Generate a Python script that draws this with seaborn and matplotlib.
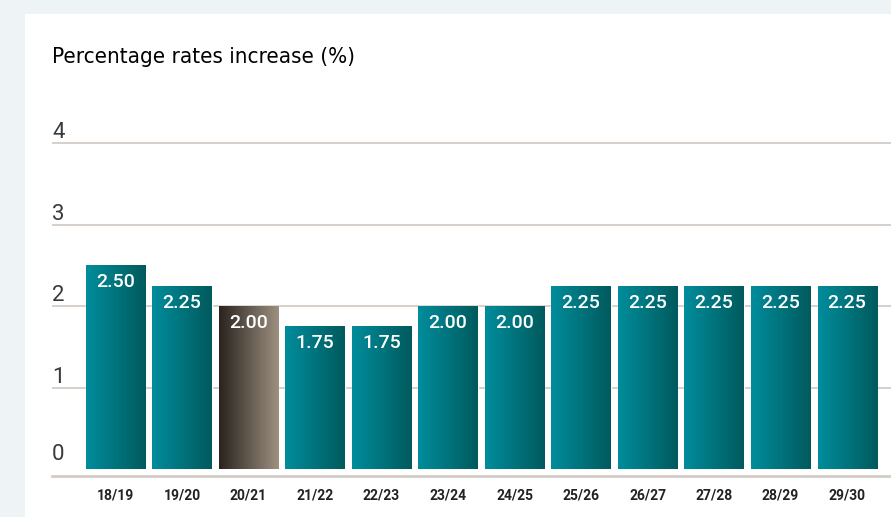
import numpy as np
import pandas as pd
import matplotlib
matplotlib.use("Agg")
import matplotlib.pyplot as plt
import matplotlib.patches as mpatches
from matplotlib.colors import LinearSegmentedColormap
import seaborn as sns

# ---- data ----
categories = ["18/19", "19/20", "20/21", "21/22", "22/23", "23/24", "24/25",
              "25/26", "26/27", "27/28", "28/29", "29/30"]
values = [2.50, 2.25, 2.00, 1.75, 1.75, 2.00, 2.00, 2.25, 2.25, 2.25, 2.25, 2.25]
value_labels = ["2.50", "2.25", "2.00", "1.75", "1.75", "2.00", "2.00",
                "2.25", "2.25", "2.25", "2.25", "2.25"]
y_ticks = [0, 1, 2, 3, 4]
title = "Percentage rates increase (%)"
highlight = "20/21"

sns.set_theme(style="white")
plt.rcParams["font.family"] = ["Roboto", "DejaVu Sans"]

W, H, DPI = 891, 517, 100
fig = plt.figure(figsize=(W / DPI, H / DPI), dpi=DPI)
fig.patch.set_facecolor("#eef3f6")
# white panel
fig.patches.append(mpatches.Rectangle((25 / W, 0), 1 - 25 / W, 1 - 14 / H,
                                      transform=fig.transFigure,
                                      facecolor="white", edgecolor="none", zorder=-5))

left_px, right_px = 52, 891
bottom_px, top_px = 476, 141.4
ax = fig.add_axes([left_px / W, 1 - bottom_px / H, (right_px - left_px) / W,
                   (bottom_px - top_px) / H])
ax.set_facecolor("none")
ax.set_zorder(2)

df = pd.DataFrame({"period": categories, "rate": values})
sns.barplot(data=df, x="period", y="rate", ax=ax, width=0.89,
            color="#007580", saturation=1, zorder=3)

xlim = (-0.955, 11.66)
ylim = (-0.086, 4.02)

teal = LinearSegmentedColormap.from_list("teal", ["#008d9c", "#005a5d"])
grey = LinearSegmentedColormap.from_list("grey", ["#29231f", "#9d9080"])
grad = np.linspace(0, 1, 256).reshape(1, -1)

for cat, patch in zip(categories, ax.patches):
    x0, y0 = patch.get_x(), patch.get_y()
    w, h = patch.get_width(), patch.get_height()
    cmap = grey if cat == highlight else teal
    im = ax.imshow(grad, cmap=cmap, aspect="auto", extent=(x0, x0 + w, y0, y0 + h),
                   zorder=4, interpolation="bilinear")
    im.set_clip_path(patch)

for i, (v, lab) in enumerate(zip(values, value_labels)):
    ax.annotate(lab, xy=(i, v), xytext=(0, -17), textcoords="offset pixels",
                ha="center", va="center", color="white", fontsize=14,
                fontweight="medium", zorder=6)

ax.set_xlim(*xlim)
ax.set_ylim(*ylim)

# gridlines
for t in y_ticks[1:]:
    ax.axhline(t, color="#d3ccc6", lw=1.3, zorder=1)
    ax.text(0, t, str(t), transform=ax.get_yaxis_transform(), ha="left",
            va="bottom", fontsize=16, color="#3a3a3a", fontweight="normal")
ax.text(0, 0.05, "0", transform=ax.get_yaxis_transform(), ha="left",
        va="bottom", fontsize=16, color="#3a3a3a", fontweight="normal")
ax.set_yticks([])

for s in ["top", "right", "left"]:
    ax.spines[s].set_visible(False)
ax.spines["bottom"].set_color("#d3ccc6")
ax.spines["bottom"].set_linewidth(2)

ax.tick_params(axis="x", length=0, pad=9, labelsize=10, labelcolor="#222222")
for lbl in ax.get_xticklabels():
    lbl.set_fontweight("bold")
ax.set_xlabel("")
ax.set_ylabel("")

fig.text(52 / W, 1 - 57 / H, title, ha="left", va="center", fontsize=16,
         color="#000000", family="DejaVu Sans", fontstretch="condensed",
         fontweight="normal")

fig.savefig("out.png", dpi=DPI, facecolor=fig.get_facecolor())
